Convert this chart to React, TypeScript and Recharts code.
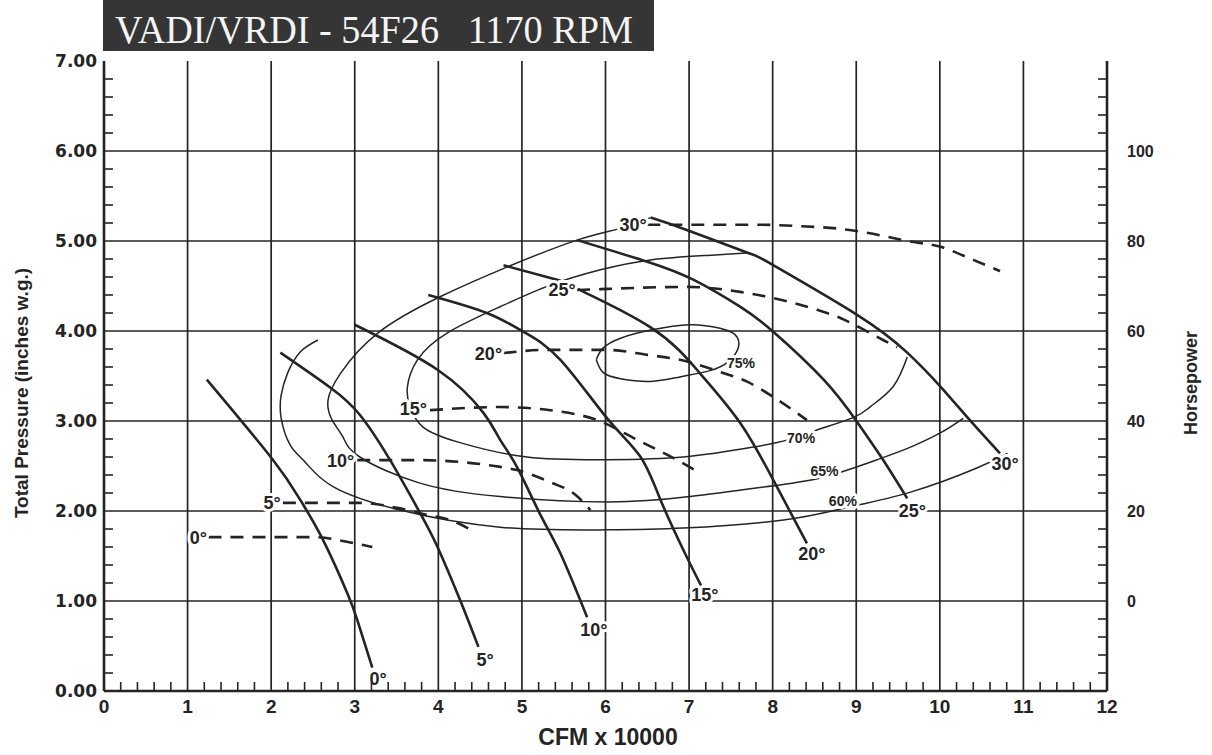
import React from 'react';
import { ComposedChart, Line, XAxis, YAxis, CartesianGrid, Scatter } from 'recharts';

type Pt = { x: number; y: number };
type Lbl = { x: number; y: number; text: string };

// ---------- Total pressure curves per blade angle (x: CFM x 10000, y: inches w.g.)
const pressure0: Pt[] = [
  { x: 1.23, y: 3.46 }, { x: 2.02, y: 2.57 }, { x: 2.35, y: 2.12 }, { x: 2.62, y: 1.68 },
  { x: 2.91, y: 1.09 }, { x: 3.03, y: 0.79 }, { x: 3.21, y: 0.26 },
];
const pressure5: Pt[] = [
  { x: 2.11, y: 3.76 }, { x: 2.71, y: 3.37 }, { x: 3.06, y: 3.07 }, { x: 3.42, y: 2.57 },
  { x: 3.78, y: 1.98 }, { x: 3.99, y: 1.6 }, { x: 4.26, y: 1.01 }, { x: 4.48, y: 0.49 },
];
const pressure10: Pt[] = [
  { x: 3.0, y: 4.07 }, { x: 3.99, y: 3.57 }, { x: 4.54, y: 3.09 }, { x: 4.74, y: 2.79 },
  { x: 4.94, y: 2.49 }, { x: 5.22, y: 1.96 }, { x: 5.46, y: 1.53 }, { x: 5.78, y: 0.82 },
];
const pressure15: Pt[] = [
  { x: 3.88, y: 4.4 }, { x: 4.58, y: 4.2 }, { x: 5.02, y: 3.99 }, { x: 5.46, y: 3.68 },
  { x: 6.02, y: 3.03 }, { x: 6.42, y: 2.6 }, { x: 6.66, y: 2.12 }, { x: 6.93, y: 1.57 },
  { x: 7.16, y: 1.14 },
];
const pressure20: Pt[] = [
  { x: 4.78, y: 4.73 }, { x: 5.42, y: 4.57 }, { x: 5.66, y: 4.47 }, { x: 6.54, y: 4.04 },
  { x: 7.13, y: 3.53 }, { x: 7.61, y: 2.98 }, { x: 8.01, y: 2.34 }, { x: 8.41, y: 1.64 },
];
const pressure25: Pt[] = [
  { x: 5.66, y: 5.01 }, { x: 6.5, y: 4.77 }, { x: 7.05, y: 4.57 }, { x: 7.61, y: 4.27 },
  { x: 8.01, y: 3.99 }, { x: 8.61, y: 3.46 }, { x: 9.01, y: 2.99 }, { x: 9.32, y: 2.57 },
  { x: 9.61, y: 2.14 },
];
const pressure30: Pt[] = [
  { x: 6.54, y: 5.26 }, { x: 6.98, y: 5.12 }, { x: 7.7, y: 4.87 }, { x: 8.01, y: 4.73 },
  { x: 9.01, y: 4.18 }, { x: 9.61, y: 3.76 }, { x: 10.01, y: 3.38 }, { x: 10.33, y: 3.04 },
  { x: 10.72, y: 2.64 },
];

// ---------- Static efficiency contours (x: CFM x 10000, y: inches w.g.)
const eff75: Pt[] = [
  { x: 5.89, y: 3.68 }, { x: 5.97, y: 3.81 }, { x: 6.18, y: 3.92 }, { x: 6.54, y: 4.01 },
  { x: 7.01, y: 4.07 }, { x: 7.37, y: 4.03 }, { x: 7.55, y: 3.96 }, { x: 7.59, y: 3.82 },
  { x: 7.47, y: 3.66 }, { x: 7.25, y: 3.56 }, { x: 6.89, y: 3.49 }, { x: 6.54, y: 3.44 },
  { x: 6.18, y: 3.47 }, { x: 5.97, y: 3.54 }, { x: 5.89, y: 3.68 },
];
const eff70: Pt[] = [
  { x: 7.73, y: 4.87 }, { x: 7.22, y: 4.84 }, { x: 6.54, y: 4.79 }, { x: 5.94, y: 4.68 },
  { x: 5.34, y: 4.51 }, { x: 4.74, y: 4.27 }, { x: 4.11, y: 3.98 }, { x: 3.75, y: 3.68 },
  { x: 3.63, y: 3.38 }, { x: 3.66, y: 3.16 }, { x: 3.82, y: 2.93 }, { x: 4.26, y: 2.76 },
  { x: 5.06, y: 2.6 }, { x: 6.02, y: 2.57 }, { x: 6.93, y: 2.6 }, { x: 7.77, y: 2.71 },
  { x: 8.18, y: 2.79 }, { x: 8.53, y: 2.9 }, { x: 8.97, y: 3.04 }, { x: 9.17, y: 3.16 },
  { x: 9.44, y: 3.38 }, { x: 9.61, y: 3.71 },
];
const eff65: Pt[] = [
  { x: 6.54, y: 5.26 }, { x: 6.18, y: 5.14 }, { x: 5.66, y: 5.01 }, { x: 4.82, y: 4.71 },
  { x: 4.02, y: 4.38 }, { x: 3.28, y: 3.98 }, { x: 2.83, y: 3.53 }, { x: 2.68, y: 3.23 },
  { x: 2.73, y: 3.01 }, { x: 2.86, y: 2.82 }, { x: 3.06, y: 2.6 }, { x: 3.78, y: 2.31 },
  { x: 4.74, y: 2.16 }, { x: 6.02, y: 2.1 }, { x: 7.01, y: 2.16 }, { x: 8.01, y: 2.28 },
  { x: 8.63, y: 2.38 }, { x: 9.25, y: 2.57 }, { x: 9.65, y: 2.71 }, { x: 10.01, y: 2.87 },
  { x: 10.28, y: 3.03 },
];
const eff60: Pt[] = [
  { x: 2.56, y: 3.9 }, { x: 2.35, y: 3.77 }, { x: 2.2, y: 3.54 }, { x: 2.12, y: 3.29 },
  { x: 2.12, y: 3.03 }, { x: 2.23, y: 2.73 }, { x: 2.41, y: 2.54 }, { x: 2.74, y: 2.27 },
  { x: 3.54, y: 2.01 }, { x: 4.74, y: 1.82 }, { x: 5.94, y: 1.79 }, { x: 6.93, y: 1.81 },
  { x: 8.13, y: 1.9 }, { x: 8.85, y: 2.03 }, { x: 9.65, y: 2.21 }, { x: 10.45, y: 2.48 },
  { x: 10.81, y: 2.64 },
];

// ---------- Horsepower curves per blade angle (x: CFM x 10000, y: HP on right axis)
const hp0: Pt[] = [
  { x: 1.25, y: 14.2 }, { x: 2.5, y: 14.2 }, { x: 2.98, y: 12.9 }, { x: 3.21, y: 12.0 },
];
const hp5: Pt[] = [
  { x: 2.14, y: 21.8 }, { x: 3.06, y: 21.8 }, { x: 3.51, y: 20.7 }, { x: 3.87, y: 19.1 },
  { x: 4.14, y: 18.0 }, { x: 4.44, y: 15.3 },
];
const hp10: Pt[] = [
  { x: 3.03, y: 31.3 }, { x: 3.78, y: 31.3 }, { x: 4.26, y: 30.9 }, { x: 4.74, y: 29.8 },
  { x: 4.94, y: 29.1 }, { x: 5.34, y: 26.4 }, { x: 5.64, y: 23.6 }, { x: 5.82, y: 20.2 },
];
const hp15: Pt[] = [
  { x: 3.9, y: 42.4 }, { x: 4.74, y: 43.1 }, { x: 5.34, y: 42.4 }, { x: 5.9, y: 40.2 },
  { x: 6.38, y: 35.8 }, { x: 6.86, y: 31.3 }, { x: 7.13, y: 28.4 },
];
const hp20: Pt[] = [
  { x: 4.78, y: 55.1 }, { x: 5.3, y: 55.8 }, { x: 6.02, y: 55.8 }, { x: 6.5, y: 54.7 },
  { x: 6.89, y: 53.6 }, { x: 7.37, y: 50.9 }, { x: 7.7, y: 48.7 }, { x: 8.01, y: 45.3 },
  { x: 8.41, y: 40.2 },
];
const hp25: Pt[] = [
  { x: 5.66, y: 69.1 }, { x: 5.94, y: 69.3 }, { x: 6.98, y: 69.8 }, { x: 7.61, y: 68.7 },
  { x: 8.01, y: 67.3 }, { x: 8.53, y: 64.7 }, { x: 8.81, y: 62.9 }, { x: 9.05, y: 60.7 },
  { x: 9.32, y: 58.0 }, { x: 9.49, y: 56.4 },
];
const hp30: Pt[] = [
  { x: 6.5, y: 83.6 }, { x: 7.85, y: 83.6 }, { x: 8.33, y: 83.3 }, { x: 8.81, y: 82.7 },
  { x: 9.08, y: 82.0 }, { x: 9.61, y: 80.0 }, { x: 10.01, y: 78.7 }, { x: 10.4, y: 75.8 },
  { x: 10.72, y: 73.3 },
];

// ---------- Curve labels (placed in x / inches w.g. coordinates)
const pressureEndLabels: Lbl[] = [
  { x: 3.28, y: 0.14, text: '0°' }, { x: 4.56, y: 0.35, text: '5°' },
  { x: 5.86, y: 0.68, text: '10°' }, { x: 7.19, y: 1.07, text: '15°' },
  { x: 8.47, y: 1.53, text: '20°' }, { x: 9.67, y: 2.01, text: '25°' },
  { x: 10.78, y: 2.53, text: '30°' },
];
const hpStartLabels: Lbl[] = [
  { x: 1.13, y: 1.71, text: '0°' }, { x: 2.01, y: 2.09, text: '5°' },
  { x: 2.83, y: 2.56, text: '10°' }, { x: 3.7, y: 3.14, text: '15°' },
  { x: 4.6, y: 3.75, text: '20°' }, { x: 5.48, y: 4.46, text: '25°' },
  { x: 6.33, y: 5.18, text: '30°' },
];
const effLabels: Lbl[] = [
  { x: 7.62, y: 3.65, text: '75%' }, { x: 8.34, y: 2.81, text: '70%' },
  { x: 8.62, y: 2.45, text: '65%' }, { x: 8.84, y: 2.11, text: '60%' },
];

// ---------- Axes
const xTickLabels = ['0', '1', '2', '3', '4', '5', '6', '7', '8', '9', '10', '11', '12'];
const pressureTickLabels = ['0.00', '1.00', '2.00', '3.00', '4.00', '5.00', '6.00', '7.00'];
const hpTickLabels = ['0', '20', '40', '60', '80', '100'];
const xGrid = [1, 2, 3, 4, 5, 6, 7, 8, 9, 10, 11];
const yGrid = [1, 2, 3, 4, 5, 6];

const range = (a: number, b: number, s: number) => {
  const out: number[] = [];
  for (let i = 0; a + i * s <= b + 1e-9; i++) out.push(Math.round((a + i * s) * 1000) / 1000);
  return out;
};
const xTicks = range(0, 12, 0.2);
const pTicks = range(0, 7, 0.2);
const hpTicks = range(-20, 120, 4);
const isMajor = (v: number, step: number) => Math.abs(v / step - Math.round(v / step)) < 1e-6;

const INK = '#242424';
const TICK_LEN = 9;

const BottomTick = (props: any) => {
  const { x, y, payload } = props;
  const v = payload.value;
  const maj = isMajor(v, 1);
  return (
    <g>
      {!maj && <line x1={x} y1={y} x2={x} y2={y - TICK_LEN} stroke={INK} strokeWidth={1.6} />}
      {maj && (
        <text x={x} y={y + 22} textAnchor="middle" fill={INK}
          style={{ fontFamily: '"Liberation Sans Narrow", "Liberation Sans", Arial, sans-serif', fontWeight: 700, fontSize: 19 }}>
          {xTickLabels[Math.round(v)]}
        </text>
      )}
    </g>
  );
};

const TopTick = (props: any) => {
  const { x, y, payload } = props;
  if (isMajor(payload.value, 1)) return <g />;
  return <line x1={x} y1={y} x2={x} y2={y + TICK_LEN} stroke={INK} strokeWidth={1.6} />;
};

const LeftTick = (props: any) => {
  const { x, y, payload } = props;
  const v = payload.value;
  const maj = isMajor(v, 1);
  return (
    <g>
      {!maj && <line x1={x} y1={y} x2={x + TICK_LEN} y2={y} stroke={INK} strokeWidth={1.6} />}
      {maj && (
        <text x={x - 7} y={y} dy="0.36em" textAnchor="end" fill={INK}
          style={{ fontFamily: '"DejaVu Sans", sans-serif', fontWeight: 700, fontSize: 17 }}>
          {pressureTickLabels[Math.round(v)]}
        </text>
      )}
    </g>
  );
};

const RightTick = (props: any) => {
  const { x, y, payload } = props;
  const v = payload.value;
  const maj = isMajor(v, 20);
  const idx = Math.round(v / 20);
  return (
    <g>
      {!maj && <line x1={x} y1={y} x2={x - TICK_LEN} y2={y} stroke={INK} strokeWidth={1.6} />}
      {maj && idx >= 0 && idx < hpTickLabels.length && (
        <text x={x + 20} y={y} dy="0.36em" textAnchor="start" fill={INK}
          style={{ fontFamily: '"Liberation Sans", Arial, sans-serif', fontWeight: 700, fontSize: 16 }}>
          {hpTickLabels[idx]}
        </text>
      )}
    </g>
  );
};

const makeLabel = (size: number) => (props: any) => {
  const { cx, cy, payload } = props;
  return (
    <text x={cx} y={cy} dy="0.36em" textAnchor="middle" fill={INK}
      stroke="#ffffff" strokeWidth={6} strokeLinejoin="round" paintOrder="stroke"
      style={{ fontFamily: '"Liberation Sans", Arial, sans-serif', fontWeight: 700, fontSize: size }}>
      {payload.text}
    </text>
  );
};
const angleLabel = makeLabel(18);
const effLabel = makeLabel(14);

const pressureSeries = [pressure0, pressure5, pressure10, pressure15, pressure20, pressure25, pressure30];
const hpSeries = [hp0, hp5, hp10, hp15, hp20, hp25, hp30];
const effSeries = [eff60, eff65, eff70, eff75];

export default function App() {
  return (
    <div style={{ position: 'absolute', left: 0, top: 0, width: 1212, height: 755, background: '#fff' }}>
      <div style={{
        position: 'absolute', left: 103, top: 0, width: 551, height: 51, background: '#353535', zIndex: 2,
      }}>
        <div style={{
          position: 'absolute', left: 12, top: 9, lineHeight: '41px', whiteSpace: 'pre',
          fontFamily: '"Liberation Serif", "Times New Roman", serif', fontSize: 40, color: '#f4f4f4',
          transform: 'scaleX(0.955)', transformOrigin: 'left center',
        }}>
          {'VADI/VRDI - 54F26   1170 RPM'}
        </div>
      </div>

      <ComposedChart width={1212} height={755} margin={{ top: 61, right: 0, bottom: 0, left: 0 }}>
        <CartesianGrid xAxisId="b" yAxisId="p" stroke={INK} strokeWidth={1.7}
          verticalValues={xGrid} horizontalValues={yGrid} />
        <XAxis xAxisId="b" dataKey="x" type="number" domain={[0, 12]} allowDataOverflow
          ticks={xTicks} interval={0} height={64} tickSize={0} tickMargin={0}
          tick={BottomTick} tickLine={false} axisLine={{ stroke: INK, strokeWidth: 2.6 }} />
        <XAxis xAxisId="t" orientation="top" dataKey="x" type="number" domain={[0, 12]} allowDataOverflow
          ticks={xTicks} interval={0} height={0} tickSize={0} tickMargin={0}
          tick={TopTick} tickLine={false} axisLine={{ stroke: INK, strokeWidth: 2.6 }} />
        <YAxis yAxisId="p" type="number" domain={[0, 7]} allowDataOverflow ticks={pTicks} interval={0}
          width={104} tickSize={0} tickMargin={0} tick={LeftTick} tickLine={false}
          axisLine={{ stroke: INK, strokeWidth: 2.6 }} />
        <YAxis yAxisId="hp" orientation="right" type="number" domain={[-20, 120]} allowDataOverflow
          ticks={hpTicks} interval={0} width={105} tickSize={0} tickMargin={0} tick={RightTick}
          tickLine={false} axisLine={{ stroke: INK, strokeWidth: 2.6 }} />

        {effSeries.map((d, i) => (
          <Line key={'e' + i} data={d} dataKey="y" xAxisId="b" yAxisId="p" type="natural"
            stroke={INK} strokeWidth={1.5} dot={false} activeDot={false} isAnimationActive={false} />
        ))}
        {hpSeries.map((d, i) => (
          <Line key={'h' + i} data={d} dataKey="y" xAxisId="b" yAxisId="hp" type="monotone"
            stroke={INK} strokeWidth={2.6} strokeDasharray="13 9" dot={false} activeDot={false}
            isAnimationActive={false} />
        ))}
        {pressureSeries.map((d, i) => (
          <Line key={'p' + i} data={d} dataKey="y" xAxisId="b" yAxisId="p" type="natural"
            stroke={INK} strokeWidth={2.6} dot={false} activeDot={false} isAnimationActive={false} />
        ))}

        <Scatter data={pressureEndLabels} dataKey="y" xAxisId="b" yAxisId="p" shape={angleLabel} isAnimationActive={false} />
        <Scatter data={hpStartLabels} dataKey="y" xAxisId="b" yAxisId="p" shape={angleLabel} isAnimationActive={false} />
        <Scatter data={effLabels} dataKey="y" xAxisId="b" yAxisId="p" shape={effLabel} isAnimationActive={false} />
      </ComposedChart>

      <div style={{
        position: 'absolute', left: 22, top: 393, transform: 'translate(-50%, -50%) rotate(-90deg)',
        whiteSpace: 'nowrap', fontFamily: '"Liberation Sans", Arial, sans-serif', fontWeight: 700,
        fontSize: 19, color: INK,
      }}>
        Total Pressure (inches w.g.)
      </div>
      <div style={{
        position: 'absolute', left: 1191, top: 383, transform: 'translate(-50%, -50%) rotate(-90deg)',
        whiteSpace: 'nowrap', fontFamily: '"Liberation Sans", Arial, sans-serif', fontWeight: 700,
        fontSize: 18, color: INK,
      }}>
        Horsepower
      </div>
      <div style={{
        position: 'absolute', left: 608, top: 737, transform: 'translate(-50%, -50%)',
        whiteSpace: 'nowrap', fontFamily: '"Liberation Sans Narrow", "Liberation Sans", Arial, sans-serif',
        fontWeight: 700, fontSize: 23, color: INK,
      }}>
        CFM x 10000
      </div>
    </div>
  );
}
